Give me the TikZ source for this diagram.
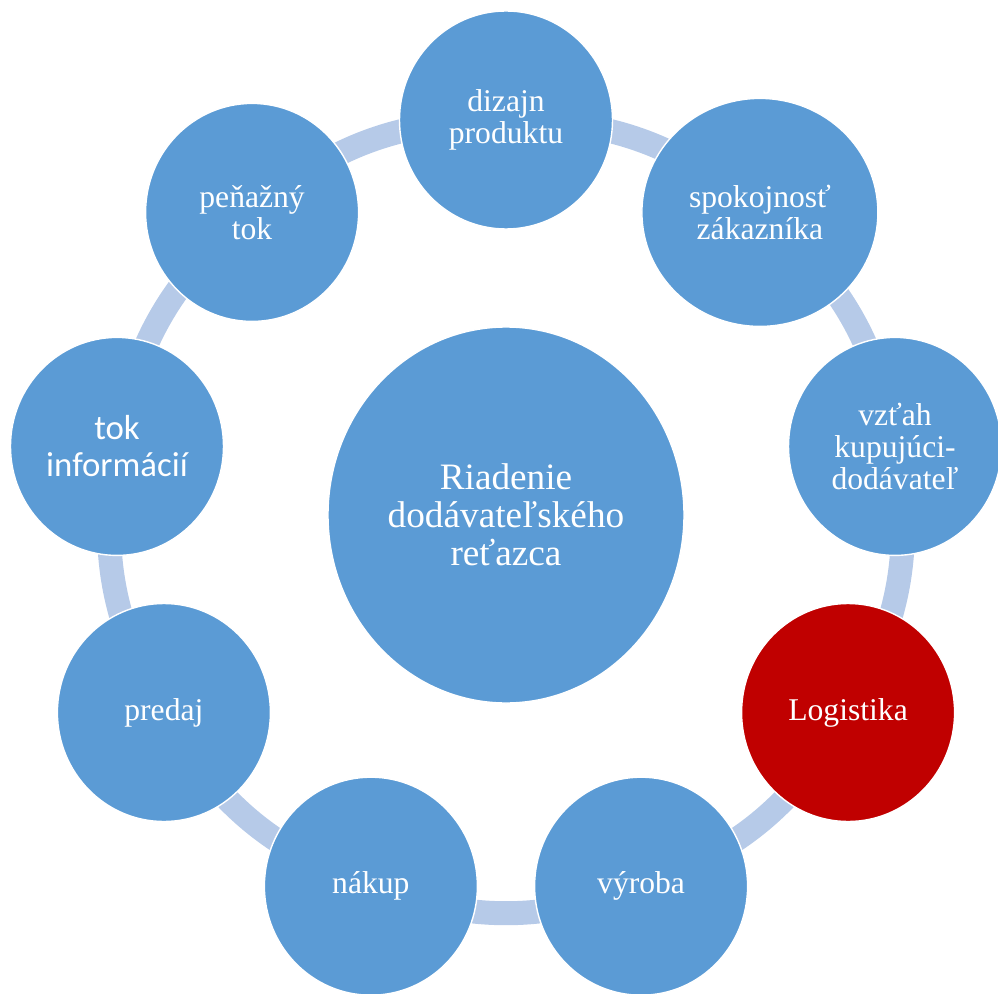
\documentclass[tikz,border=0pt]{standalone}
\usepackage{fontspec}
\setmainfont{Liberation Serif}
\newfontfamily\calibrifont{Carlito}
\usetikzlibrary{shapes.geometric, backgrounds}

\definecolor{cycleblue}{RGB}{91,155,213}
\definecolor{cyclered}{RGB}{192,0,0}
\definecolor{linkblue}{RGB}{182,202,232}

\begin{document}
\begin{tikzpicture}[
  disc/.style={ellipse, draw=white, line width=0.8pt, fill=cycleblue, text=white,
               align=center, inner sep=0pt, minimum width=4.26cm, minimum height=4.36cm,
               font=\fontsize{18}{18.3}\selectfont},
  hub/.style={disc, minimum width=7.12cm, minimum height=7.52cm,
              font=\fontsize{21.2}{21.7}\selectfont},
  link/.style={linkblue, line width=0.48cm}
]
\useasboundingbox (-10.12,-9.56) rectangle (9.84,10.3);

\node[hub] (riadenie) at (0,0) {Riadenie\\dodávateľského\\reťazca};

% nine discs on one ring, 40 degrees apart
\node[disc] (dizajn) at (90:7.9) {dizajn\\produktu};
\node[disc, minimum width=4.72cm, minimum height=4.56cm] (spokoj) at (50:7.9) {spokojnosť\\zákazníka};
\node[disc] (vztah) at (10:7.9) {vzťah\\kupujúci-\\dodávateľ};
\node[disc, fill=cyclered] (logist) at (-30:7.9) {Logistika};
\node[disc] (vyroba) at (-70:7.9) {výroba};
\node[disc] (nakup) at (-110:7.9) {nákup};
\node[disc] (predaj) at (-150:7.9) {predaj};
\node[disc, font=\calibrifont\fontsize{19.8}{21}\selectfont] (tokinf) at (170:7.9) {tok\\informácií};
\node[disc] (penazny) at (130:7.9) {peňažný\\tok};

% links run centre to centre behind the discs, so only the gaps show
\begin{scope}[on background layer]
\draw[link] (dizajn.center) to[bend left=20] (spokoj.center);
\draw[link] (spokoj.center) to[bend left=20] (vztah.center);
\draw[link] (vztah.center) to[bend left=20] (logist.center);
\draw[link] (logist.center) to[bend left=20] (vyroba.center);
\draw[link] (vyroba.center) to[bend left=20] (nakup.center);
\draw[link] (nakup.center) to[bend left=20] (predaj.center);
\draw[link] (predaj.center) to[bend left=20] (tokinf.center);
\draw[link] (tokinf.center) to[bend left=20] (penazny.center);
\draw[link] (penazny.center) to[bend left=20] (dizajn.center);
\end{scope}
\end{tikzpicture}
\end{document}
